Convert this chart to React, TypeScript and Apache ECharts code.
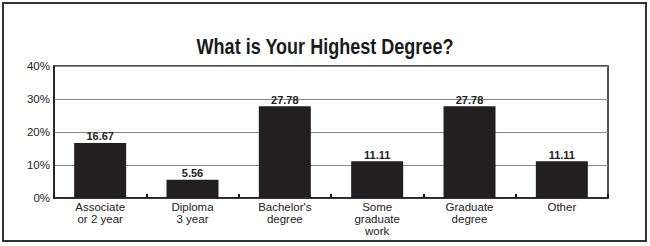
import React, { useEffect, useRef } from "react";
import * as echarts from "echarts";

const categories = ["Associate\nor 2 year", "Diploma\n3 year", "Bachelor's\ndegree", "Some\ngraduate\nwork", "Graduate\ndegree", "Other"];
const values = [16.67, 5.56, 27.78, 11.11, 27.78, 11.11];
const yTicks = [0, 10, 20, 30, 40];
const titleText = "What is Your Highest Degree?";

const FONT = "'Liberation Sans', Arial, sans-serif";

export default function App() {
  const ref = useRef<HTMLDivElement>(null);
  useEffect(() => {
    if (!ref.current) return;
    const chart = echarts.init(ref.current, undefined, { renderer: "svg" });
    chart.setOption({
      animation: false,
      backgroundColor: "#ffffff",
      graphic: [
        {
          type: "rect",
          shape: { x: 3, y: 3, width: 643, height: 238 },
          style: { fill: "none", stroke: "#333", lineWidth: 2 },
          silent: true,
        },
        {
          type: "text",
          x: 325,
          y: 46,
          scaleX: 0.82,
          silent: true,
          style: {
            text: titleText,
            x: 0,
            y: 0,
            align: "center",
            verticalAlign: "middle",
            fontFamily: FONT,
            fontSize: 22,
            fontWeight: "bold",
            fill: "#1a1a1a",
          },
        },
      ],
      grid: {
        left: 54,
        right: 42,
        top: 66,
        bottom: 48,
        show: true,
        borderColor: "#1a1a1a",
        borderWidth: 1.5,
        backgroundColor: "transparent",
      },
      xAxis: {
        type: "category",
        data: categories,
        axisLine: { lineStyle: { color: "#1a1a1a", width: 1.5 } },
        axisTick: { show: true, inside: true, length: 4, lineStyle: { color: "#1a1a1a", width: 2 } },
        axisLabel: { fontFamily: FONT, fontSize: 11.5, color: "#222", lineHeight: 12, margin: 3, interval: 0 },
      },
      yAxis: {
        type: "value",
        min: yTicks[0],
        max: yTicks[yTicks.length - 1],
        interval: 10,
        axisLine: { show: true, lineStyle: { color: "#1a1a1a", width: 1.5 } },
        axisTick: { show: false },
        splitLine: { show: true, lineStyle: { color: "#888", width: 1 } },
        axisLabel: { fontFamily: FONT, fontSize: 11.5, color: "#222", formatter: "{value}%", margin: 4 },
      },
      series: [
        {
          type: "bar",
          data: values,
          barWidth: 52,
          itemStyle: { color: "#231f20" },
          label: {
            show: true,
            position: "top",
            distance: 1,
            fontFamily: FONT,
            fontSize: 11,
            fontWeight: "bold",
            color: "#222",
            formatter: (p: any) => p.value.toFixed(2),
          },
        },
      ],
    });
    return () => chart.dispose();
  }, []);
  return (
    <div
      ref={ref}
      style={{ position: "fixed", left: 0, top: 0, width: 650, height: 246 }}
    />
  );
}
